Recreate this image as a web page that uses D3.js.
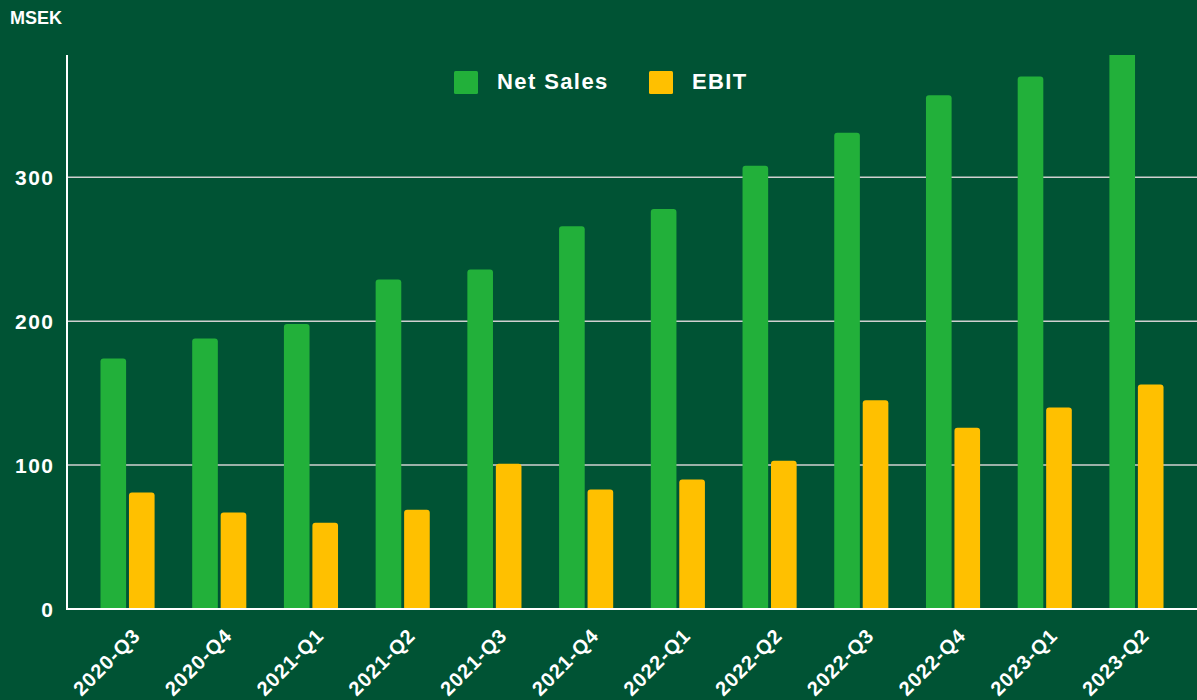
<!DOCTYPE html>
<html>
<head>
<meta charset="utf-8">
<title>Net Sales and EBIT</title>
<script src="https://d3js.org/d3.v7.min.js"></script>
<style>
  html, body { margin: 0; padding: 0; background: #005334; }
  svg { display: block; font-family: "Liberation Sans", Arial, sans-serif; }
</style>
</head>
<body>
<script>
// values
var quarters = ["2020-Q3", "2020-Q4", "2021-Q1", "2021-Q2", "2021-Q3", "2021-Q4",
                "2022-Q1", "2022-Q2", "2022-Q3", "2022-Q4", "2023-Q1", "2023-Q2"];
var netSales = [174, 188, 198, 229, 236, 266, 278, 308, 331, 357, 370, 392];
var ebit     = [81, 67, 60, 69, 101, 83, 90, 103, 145, 126, 140, 156];
var seriesNames = ["Net Sales", "EBIT"];
var seriesColors = ["#22b03a", "#ffc000"];
var yTicks = [0, 100, 200, 300];

var width = 1197;
var height = 700;
var plotLeft = 67, plotBottom = 609, plotTop = 55;

var svg = d3.select("body")
    .append("svg")
    .attr("width", width)
    .attr("height", height);

svg.append("rect")
    .attr("width", width)
    .attr("height", height)
    .attr("fill", "#005334");

var x = d3.scaleBand()
    .domain(quarters)
    .range([plotLeft, width])
    .paddingInner(0.41)
    .paddingOuter(0.365);

var xSub = d3.scaleBand()
    .domain(seriesNames)
    .range([0, x.bandwidth()])
    .paddingInner(0.1);

var y = d3.scaleLinear()
    .domain([0, 385])
    .range([plotBottom, plotTop]);

// clip so the tallest bar gets cut at the top like the original
svg.append("clipPath")
    .attr("id", "plot")
    .append("rect")
    .attr("x", plotLeft)
    .attr("y", plotTop)
    .attr("width", width - plotLeft)
    .attr("height", plotBottom - plotTop);

// grid lines
svg.append("g")
    .selectAll("line")
    .data(yTicks.filter(function(d) { return d > 0; }))
    .enter()
    .append("line")
    .attr("x1", plotLeft)
    .attr("x2", width)
    .attr("y1", function(d) { return y(d); })
    .attr("y2", function(d) { return y(d); })
    .attr("stroke", "#d0d0d0")
    .attr("stroke-width", 1.5);

var rows = quarters.map(function(q, i) {
  return { q: q, values: [netSales[i], ebit[i]] };
});

var groups = svg.append("g")
    .attr("clip-path", "url(#plot)")
    .selectAll("g")
    .data(rows)
    .enter()
    .append("g")
    .attr("transform", function(d) { return "translate(" + x(d.q) + ",0)"; });

// bars with small rounded tops
groups.selectAll("path")
    .data(function(d) {
      return d.values.map(function(v, j) { return { name: seriesNames[j], value: v, color: seriesColors[j] }; });
    })
    .enter()
    .append("path")
    .attr("fill", function(d) { return d.color; })
    .attr("d", function(d) {
      var x0 = xSub(d.name), w = xSub.bandwidth();
      var yt = y(d.value), r = 3;
      return "M" + x0 + "," + plotBottom +
             "V" + (yt + r) +
             "Q" + x0 + "," + yt + " " + (x0 + r) + "," + yt +
             "H" + (x0 + w - r) +
             "Q" + (x0 + w) + "," + yt + " " + (x0 + w) + "," + (yt + r) +
             "V" + plotBottom + "Z";
    });

// axis lines
svg.append("line")
    .attr("x1", plotLeft).attr("x2", plotLeft)
    .attr("y1", plotTop).attr("y2", plotBottom + 1)
    .attr("stroke", "#ffffff")
    .attr("stroke-width", 2);

svg.append("line")
    .attr("x1", plotLeft).attr("x2", width)
    .attr("y1", plotBottom).attr("y2", plotBottom)
    .attr("stroke", "#ffffff")
    .attr("stroke-width", 2);

// y tick labels
svg.append("g")
    .selectAll("text")
    .data(yTicks)
    .enter()
    .append("text")
    .attr("x", 54.5)
    .attr("y", function(d) { return y(d) + 7.5; })
    .attr("text-anchor", "end")
    .attr("fill", "#ffffff")
    .attr("font-size", "21px")
    .attr("font-weight", "bold")
    .attr("letter-spacing", "1.5px")
    .text(function(d) { return d; });

// x tick labels, rotated
svg.append("g")
    .selectAll("text")
    .data(quarters)
    .enter()
    .append("text")
    .attr("transform", function(d) {
      var cx = x(d) + x.bandwidth() / 2 + 14;
      return "translate(" + cx + ",637) rotate(-45)";
    })
    .attr("text-anchor", "end")
    .attr("fill", "#ffffff")
    .attr("font-size", "20px")
    .attr("font-weight", "bold")
    .attr("letter-spacing", "1px")
    .text(function(d) { return d; });

// unit label
svg.append("text")
    .attr("x", 10)
    .attr("y", 24)
    .attr("fill", "#ffffff")
    .attr("font-size", "18px")
    .attr("font-weight", "bold")
    .text("MSEK");

// legend
var legendX = [454, 649];
var legend = svg.append("g")
    .selectAll("g")
    .data(seriesNames)
    .enter()
    .append("g")
    .attr("transform", function(d, i) { return "translate(" + legendX[i] + ",71)"; });

legend.append("rect")
    .attr("width", 24)
    .attr("height", 23)
    .attr("rx", 1.5)
    .attr("fill", function(d, i) { return seriesColors[i]; });

legend.append("text")
    .attr("x", 43)
    .attr("y", 18)
    .attr("fill", "#ffffff")
    .attr("font-size", "22px")
    .attr("font-weight", "bold")
    .attr("letter-spacing", "1.4px")
    .text(function(d) { return d; });
</script>
</body>
</html>
